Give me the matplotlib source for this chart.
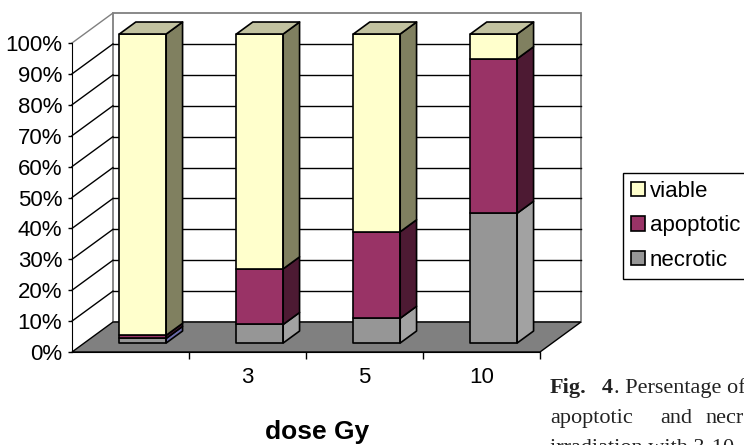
import matplotlib
matplotlib.use("Agg")
import matplotlib.pyplot as plt
from matplotlib.patches import Polygon, Patch

# ── Data ──────────────────────────────────────────────────────────────────────
doses     = ["", "3", "5", "10"]
necrotic  = [1.5, 6, 8, 42]
apoptotic = [1.0, 18, 28, 50]
viable    = [97.5, 76, 64, 8]

series = [
    ("necrotic",  necrotic,  "#969696", "#a2a2a2", "#b4b4b4"),
    ("apoptotic", apoptotic, "#993366", "#4d1a33", "#7a2952"),
    ("viable",    viable,    "#ffffcc", "#808060", "#c2c2a0"),
]

plt.rcParams.update({
    "font.family": ["Liberation Sans", "DejaVu Sans"],
    "font.size": 16,
})

W, H = 744, 445
fig = plt.figure(figsize=(W / 100, H / 100), dpi=100)
ax = fig.add_axes([72 / W, (H - 352) / H, 468 / W, 309 / H])
ax.set_xlim(-0.5, 3.5)
ax.set_ylim(0, 100)
ax.patch.set_alpha(0)

# depth of the 3-D box (category units, percent units)
DX, DY = 0.35, 9.7
BW = 0.40           # bar width
F, D = 0.30, 0.40   # bar front position and depth as fractions of the box depth

# back wall + gridlines
x_l, x_r = -0.5 + DX, 3.5 + DX
ax.add_patch(Polygon([(x_l, DY), (x_r, DY), (x_r, 100 + DY), (x_l, 100 + DY)],
                     closed=True, facecolor="white", edgecolor="#808080",
                     lw=1.3, zorder=1, clip_on=False))
for p in range(10, 100, 10):
    ax.plot([x_l, x_r], [p + DY, p + DY], color="black", lw=1.0,
            zorder=1.2, clip_on=False)
# side wall diagonals
for p in range(10, 101, 10):
    ax.plot([-0.5, x_l], [p, p + DY], color="#808080" if p == 100 else "black",
            lw=1.0, zorder=1.2, clip_on=False)

# floor
ax.add_patch(Polygon([(-0.5, 0), (3.5, 0), (x_r, DY), (x_l, DY)], closed=True,
                     facecolor="#808080", edgecolor="black", lw=1.0,
                     zorder=1.5, clip_on=False))

# stacked 3-D columns
dx, dy = D * DX, D * DY
for i in range(len(doses)):
    x0 = i - BW / 2 + F * DX
    x1 = x0 + BW
    base = 0.0
    for k, (name, vals, c_front, c_side, c_top) in enumerate(series):
        b = base + F * DY
        t = base + vals[i] + F * DY
        kw = dict(closed=True, edgecolor="black", lw=1.2, zorder=4 + i,
                  joinstyle="round", clip_on=False)
        # the control column shows a bluish side on its bottom block
        side = "#6a6aa8" if (i == 0 and k == 0) else c_side
        ax.add_patch(Polygon([(x0, b), (x1, b), (x1, t), (x0, t)],
                             facecolor=c_front, **kw))
        ax.add_patch(Polygon([(x1, b), (x1 + dx, b + dy), (x1 + dx, t + dy), (x1, t)],
                             facecolor=side, **kw))
        if k == len(series) - 1:
            ax.add_patch(Polygon([(x0, t), (x1, t), (x1 + dx, t + dy), (x0 + dx, t + dy)],
                                 facecolor=c_top, **kw))
        base += vals[i]

# axes styling
for s in ("top", "right"):
    ax.spines[s].set_visible(False)
ax.spines["left"].set_color("black")
ax.spines["bottom"].set_color("black")
ax.spines["left"].set_zorder(6)
ax.spines["bottom"].set_zorder(6)

ax.set_yticks(range(0, 101, 10))
ax.set_yticklabels([f"{v}%" for v in range(0, 101, 10)])
ax.tick_params(axis="y", length=3, width=1, pad=4)

ax.set_xticks([0.5, 1.5, 2.5, 3.5])
ax.set_xticklabels([])
ax.tick_params(axis="x", which="major", length=5, width=1)
ax.set_xticks(range(len(doses)), minor=True)
ax.set_xticklabels(doses, minor=True)
ax.tick_params(axis="x", which="minor", length=0, pad=11)

fig.text(317 / W, 6 / H, "dose Gy", ha="center", va="baseline",
         fontsize=19, fontweight="bold")

# legend
handles = [Patch(facecolor=c_front, edgecolor="black", lw=1.2)
           for (_, _, c_front, _, _) in series[::-1]]
labels = [name for (name, *_rest) in series[::-1]]
fig.legend(handles, labels, loc="upper left",
           bbox_to_anchor=(623 / W, 1 - 173 / H), bbox_transform=fig.transFigure,
           frameon=True, fancybox=False, edgecolor="black", framealpha=1,
           borderaxespad=0, borderpad=0.36, labelspacing=0.6,
           handlelength=0.63, handleheight=0.63, handletextpad=0.22,
           fontsize=16)

# caption fragment beside the chart
serif = ["Liberation Serif", "DejaVu Serif"]
cap = dict(family=serif, fontsize=16, va="baseline", color="#222222")
fig.text(550 / W, (H - 393) / H, "Fig.", fontweight="bold", **cap)
fig.text(602 / W, (H - 393) / H, "4", fontweight="bold", **cap)
fig.text(614 / W, (H - 393) / H, ". Persentage of", **cap)
for word, xp in [("apoptotic", 550), ("and", 660), ("necrotic", 705)]:
    fig.text(xp / W, (H - 423) / H, word, **cap)
fig.text(550 / W, (H - 453) / H, "irradiation with 3-10", **cap)

fig.savefig("out.png", dpi=100)
